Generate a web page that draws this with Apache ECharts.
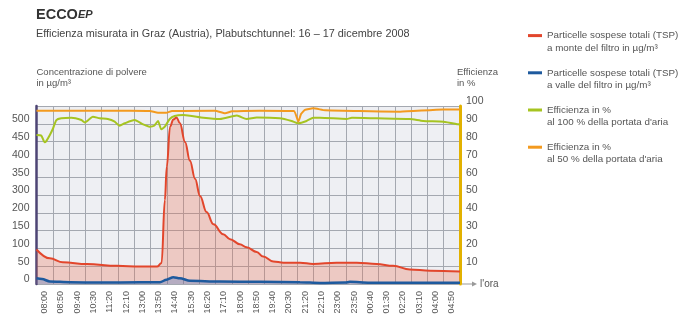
<!DOCTYPE html>
<html>
<head>
<meta charset="utf-8">
<script src="https://cdn.jsdelivr.net/npm/echarts@6/dist/echarts.min.js"></script>
<style>
  html, body { margin: 0; padding: 0; background: #ffffff; }
  #chart { width: 700px; height: 324px; }
</style>
</head>
<body>
<div id="chart"></div>
<script>
// ---------- data ----------
const xLabels = ['08:00','08:50','09:40','10:30','11:20','12:10','13:00','13:50','14:40','15:30','16:20','17:10','18:00','18:50','19:40','20:30','21:20','22:10','23:00','23:50','00:40','01:30','02:20','03:10','04:00','04:50'];
const leftTicks = [0, 50, 100, 150, 200, 300, 350, 400, 450, 500];
const rightTicks = [10, 20, 30, 40, 50, 60, 70, 80, 90, 100];

// TSP upstream of filter (µg/m³)
const redTimes  = ['07:35','08:16','08:56','10:10','11:42','12:53','13:45','13:59','14:09','14:15','14:25','14:35','14:45','14:55','15:11','15:26','15:42','15:57','16:17','16:38','17:08','17:29','17:59','18:20','18:51','19:11','19:42','20:13','21:04','21:44','22:56','23:58','00:59','01:50','02:41','03:43','05:15'];
const redValues = [97, 72, 61, 56, 51, 49, 49, 59, 272, 380, 492, 512, 518, 502, 449, 396, 345, 294, 204, 168, 140, 126, 112, 103, 90, 77, 63, 60, 60, 56, 60, 60, 56, 51, 41, 37, 35];

// TSP downstream of filter (µg/m³)
const blueTimes  = ['07:35','07:52','08:16','09:18','10:50','12:53','13:54','14:14','14:35','14:55','15:26','16:58','19:01','21:04','22:05','23:22','23:37','00:38','05:15'];
const blueValues = [16, 14, 7, 5, 4, 5, 5, 12, 19, 16, 9, 7, 6, 5, 3, 4, 6, 3.5, 3.5];

// Efficiency at 100 % air flow (%)
const greenTimes  = ['07:35','07:50','08:00','08:05','08:16','08:26','08:36','08:51','09:22','09:53','10:03','10:18','10:28','10:49','11:14','11:35','11:50','12:06','12:36','13:02','13:22','13:36','13:48','13:58','14:09','14:24','14:39','15:06','16:07','16:58','17:50','18:20','18:51','20:02','20:38','20:59','21:24','21:45','22:05','23:27','23:43','00:59','02:41','03:22','04:24','05:10','05:15'];
const greenValues = [83.7, 83.3, 79.6, 80.3, 83.7, 87.5, 92.1, 93.1, 93.4, 92.1, 90.8, 92.7, 94.0, 93.1, 92.7, 91.2, 88.9, 90.3, 92.1, 89.7, 88.4, 88.9, 91.6, 86.9, 88.4, 92.7, 94.4, 94.9, 93.4, 92.7, 94.6, 92.7, 93.6, 93.1, 91.6, 90.3, 91.6, 93.4, 93.4, 92.7, 93.4, 93.1, 92.7, 91.6, 91.2, 89.7, 89.5];

// Efficiency at 50 % air flow (%)
const orangeTimes  = ['07:35','12:22','13:23','13:48','14:13','14:31','16:43','17:14','17:35','19:01','20:45','20:59','21:07','21:19','21:44','22:21','00:08','02:11','04:23','05:15'];
const orangeValues = [97.4, 97.4, 97.2, 96.2, 96.2, 97.2, 97.4, 95.9, 97.0, 97.4, 97.2, 91.2, 95.5, 97.8, 98.7, 97.6, 97.2, 96.8, 98.1, 98.1];

const seriesNames = [
  'Particelle sospese totali (TSP)\na monte del filtro in µg/m³',
  'Particelle sospese totali (TSP)\na valle del filtro in µg/m³',
  'Efficienza in %\nal 100 % della portata d\'aria',
  'Efficienza in %\nal 50 % della portata d\'aria'
];

// ---------- helpers ----------
const START = 7 * 60 + 35;            // left edge of the time axis (07:35)
const SPAN = xLabels.length * 50;     // each label band = 50 minutes
function toMinutes(s) {
  const [h, m] = s.split(':').map(Number);
  let t = h * 60 + m;
  if (t < START) t += 1440;
  return t - START;
}
// left axis is drawn with equally spaced ticks labelled by leftTicks
function toLeftAxis(v) {
  const n = leftTicks.length;
  for (let i = 0; i < n - 1; i++) {
    if (v <= leftTicks[i + 1]) return i + (v - leftTicks[i]) / (leftTicks[i + 1] - leftTicks[i]);
  }
  return (n - 1) + (v - leftTicks[n - 1]) / (leftTicks[n - 1] - leftTicks[n - 2]);
}
const pairs = (ts, vs, f) => ts.map((t, i) => [toMinutes(t), f ? f(vs[i]) : vs[i]]);

const FONT = 'Liberation Sans, Arial, sans-serif';
const TXT = '#555';

const chart = echarts.init(document.getElementById('chart'), null, { renderer: 'canvas' });
chart.setOption({
  animation: false,
  textStyle: { fontFamily: FONT },
  title: [
    {
      left: 36, top: 7, padding: 0,
      text: '{a|ECCO}{b|EP}',
      textStyle: {
        rich: {
          a: { fontFamily: FONT, fontSize: 14.5, fontWeight: 'bold', color: '#333' },
          b: { fontFamily: FONT, fontSize: 11, fontWeight: 'bold', fontStyle: 'italic', color: '#333', padding: [1, 0, 0, 0] }
        }
      }
    },
    {
      left: 36, top: 28.5, padding: 0,
      text: 'Efficienza misurata in Graz (Austria), Plabutschtunnel: 16 – 17 dicembre 2008',
      textStyle: { fontFamily: FONT, fontSize: 10.85, fontWeight: 'normal', color: '#444' }
    }
  ],
  legend: {
    orient: 'vertical',
    left: 528, top: 17, padding: 0,
    itemWidth: 14, itemHeight: 3, itemGap: 0,
    icon: 'rect',
    selectedMode: false,
    data: seriesNames,
    formatter: name => ' \n' + name,
    textStyle: { fontFamily: FONT, fontSize: 9.8, color: TXT, lineHeight: 12.4 }
  },
  grid: {
    left: 36.5, right: 240, top: 106, bottom: 40,
    show: true, backgroundColor: '#eeeff3', borderWidth: 0
  },
  xAxis: [
    {
      type: 'category',
      data: xLabels,
      boundaryGap: true,
      name: "l'ora",
      nameLocation: 'end',
      nameGap: 20,
      nameTextStyle: { fontFamily: FONT, fontSize: 10, color: TXT, align: 'left', verticalAlign: 'middle' },
      axisLine: { show: false },
      axisTick: { show: false },
      axisLabel: { interval: 0, rotate: 90, fontSize: 9, color: TXT, margin: 7, fontFamily: FONT },
      splitLine: { show: true, interval: 0, lineStyle: { color: '#a4a8b0', width: 1 } }
    },
    {
      type: 'value',
      min: 0, max: SPAN,
      show: false
    }
  ],
  yAxis: [
    {
      type: 'value',
      min: 0, max: 10, interval: 1,
      name: 'Concentrazione di polvere\nin µg/m³',
      nameLocation: 'end',
      nameGap: 28,
      nameTextStyle: { fontFamily: FONT, fontSize: 9.5, color: TXT, align: 'left', verticalAlign: 'middle', lineHeight: 11.5 },
      axisLine: { show: true, lineStyle: { color: '#4d4474', width: 2.5 } },
      axisTick: { show: false },
      axisLabel: {
        fontSize: 10.5, color: TXT, margin: 7, fontFamily: FONT,
        verticalAlign: 'bottom', lineHeight: 9,
        formatter: v => (leftTicks[v] !== undefined ? String(leftTicks[v]) : '')
      },
      splitLine: { show: true, lineStyle: { color: '#a4a8b0', width: 1 } }
    },
    {
      type: 'value',
      min: 0, max: 100, interval: 10,
      position: 'right',
      name: 'Efficienza\nin %',
      nameLocation: 'end',
      nameGap: 28,
      nameTextStyle: { fontFamily: FONT, fontSize: 9.5, color: TXT, align: 'left', verticalAlign: 'middle', lineHeight: 11.5, padding: [0, 0, 0, -3] },
      axisLine: { show: true, lineStyle: { color: '#e2b100', width: 3 } },
      axisTick: { show: false },
      axisLabel: {
        fontSize: 10.5, color: TXT, margin: 6, fontFamily: FONT,
        verticalAlign: 'bottom', lineHeight: 9,
        formatter: v => (rightTicks.indexOf(v) >= 0 ? String(v) : '')
      },
      splitLine: { show: false }
    }
  ],
  series: [
    {
      name: seriesNames[0], type: 'line', xAxisIndex: 1, yAxisIndex: 0,
      data: pairs(redTimes, redValues, toLeftAxis),
      smooth: 0.4, smoothMonotone: 'x', showSymbol: false,
      lineStyle: { color: '#e2462c', width: 2 },
      itemStyle: { color: '#e2462c' },
      areaStyle: { color: 'rgba(236,112,80,0.42)' },
      z: 2
    },
    {
      name: seriesNames[1], type: 'line', xAxisIndex: 1, yAxisIndex: 0,
      data: pairs(blueTimes, blueValues, toLeftAxis),
      smooth: 0.3, smoothMonotone: 'x', showSymbol: false,
      lineStyle: { color: '#1e5a9e', width: 2.5 },
      itemStyle: { color: '#1e5a9e' },
      areaStyle: { color: 'rgba(60,110,190,0.45)' },
      z: 3
    },
    {
      name: seriesNames[2], type: 'line', xAxisIndex: 1, yAxisIndex: 1,
      data: pairs(greenTimes, greenValues),
      smooth: 0.2, showSymbol: false,
      lineStyle: { color: '#a6c421', width: 2 },
      itemStyle: { color: '#a6c421' },
      z: 4
    },
    {
      name: seriesNames[3], type: 'line', xAxisIndex: 1, yAxisIndex: 1,
      data: pairs(orangeTimes, orangeValues),
      smooth: 0.15, showSymbol: false,
      lineStyle: { color: '#f39a1f', width: 2 },
      itemStyle: { color: '#f39a1f' },
      z: 5
    }
  ],
  graphic: [
    { type: 'line', shape: { x1: 462, y1: 284, x2: 473, y2: 284 }, style: { stroke: '#999', lineWidth: 1 }, silent: true },
    { type: 'polygon', shape: { points: [[472, 281.5], [477, 284], [472, 286.5]] }, style: { fill: '#999' }, silent: true }
  ]
});
</script>
</body>
</html>
